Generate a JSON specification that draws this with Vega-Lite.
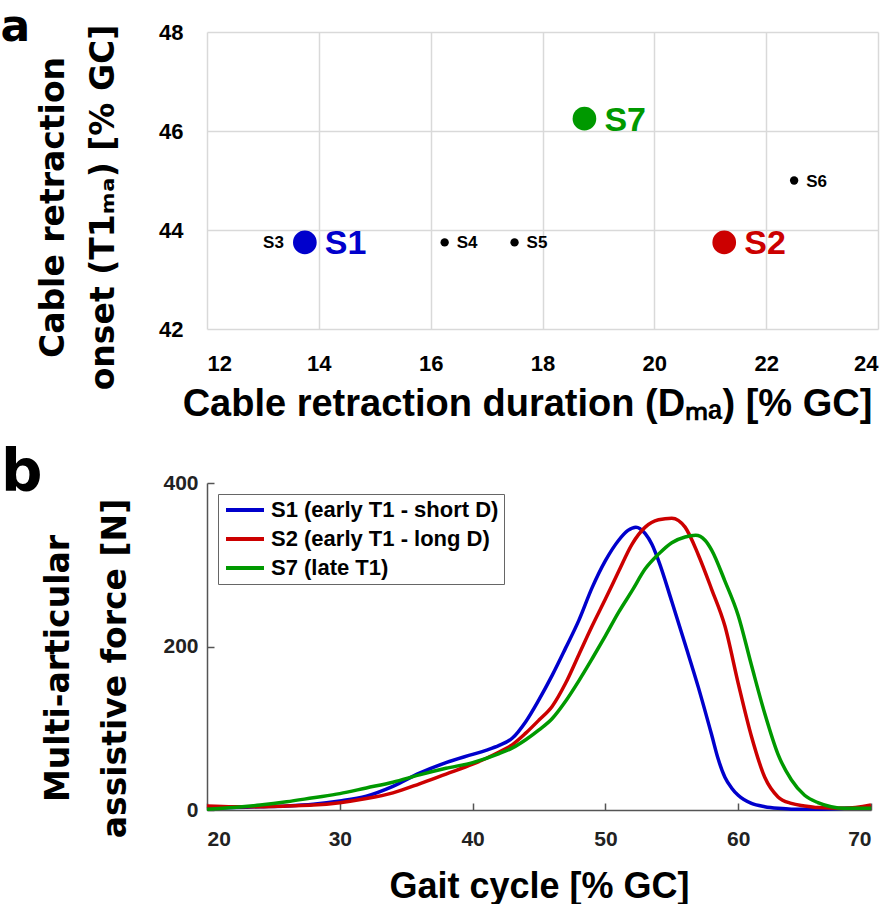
{
  "$schema": "https://vega.github.io/schema/vega-lite/v6.json",
  "background": "white",
  "padding": {"left": 0, "top": 6, "right": 5, "bottom": 0},
  "spacing": 22,
  "config": {"view": {"stroke": null}},
  "resolve": {"scale": {"color": "independent", "size": "independent"}, "legend": {"color": "independent", "size": "independent"}},
  "vconcat": [
    {
      "width": 671,
      "height": 297,
      "title": {"text": "a", "anchor": "start", "frame": "bounds", "font": "DejaVu Sans", "fontSize": 44, "fontWeight": "bold", "color": "black", "dx": -37, "offset": -29},
      "data": {"values": [
        {"subject": "S3", "duration": 13.75, "onset": 43.75},
        {"subject": "S1", "duration": 13.75, "onset": 43.75},
        {"subject": "S4", "duration": 16.25, "onset": 43.75},
        {"subject": "S5", "duration": 17.5, "onset": 43.75},
        {"subject": "S7", "duration": 18.75, "onset": 46.25},
        {"subject": "S2", "duration": 21.25, "onset": 43.75},
        {"subject": "S6", "duration": 22.5, "onset": 45}
      ]},
      "encoding": {
        "x": {"field": "duration", "type": "quantitative", "scale": {"domain": [12, 24], "nice": false, "zero": false},
          "axis": {"values": [12, 14, 16, 18, 20, 22, 24], "grid": true, "gridColor": "#d9d9d9", "gridWidth": 1.5, "domain": false, "ticks": false,
            "labelFont": "Liberation Sans", "labelFontSize": 22, "labelFontWeight": "bold", "labelColor": "black", "labelPadding": 24,
            "title": "Cable retraction duration (Dₘₐ) [% GC]", "titleX": 320, "titleFont": "Liberation Sans", "titleFontSize": 38, "titleFontWeight": "bold", "titleColor": "black", "titlePadding": 11}},
        "y": {"field": "onset", "type": "quantitative", "scale": {"domain": [42, 48], "nice": false, "zero": false},
          "axis": {"values": [42, 44, 46, 48], "grid": true, "gridColor": "#d9d9d9", "gridWidth": 1.5, "domain": false, "ticks": false,
            "labelFont": "Liberation Sans", "labelFontSize": 22, "labelFontWeight": "bold", "labelColor": "black", "labelPadding": 24,
            "title": ["Cable retraction", "onset (T1ₘₐ) [% GC]"], "titleY": 175, "titleFont": "DejaVu Sans", "titleFontSize": 33, "titleFontWeight": "bold", "titleColor": "black", "titleLineHeight": 50, "titlePadding": 38}}
      },
      "layer": [
        {"mark": {"type": "circle", "opacity": 1},
         "encoding": {
           "color": {"field": "subject", "type": "nominal", "scale": {"domain": ["S1", "S2", "S3", "S4", "S5", "S6", "S7"], "range": ["#0000cc", "#cc0000", "#000000", "#000000", "#000000", "#000000", "#009900"]}, "legend": null},
           "size": {"field": "subject", "type": "nominal", "scale": {"type": "ordinal", "domain": ["S1", "S2", "S3", "S4", "S5", "S6", "S7"], "range": [560, 560, 70, 70, 70, 70, 560]}, "legend": null}
         }},
        {"transform": [{"filter": {"field": "subject", "oneOf": ["S1", "S2", "S7"]}}],
         "mark": {"type": "text", "align": "left", "baseline": "middle", "dx": 20, "dy": 2, "font": "Liberation Sans", "fontSize": 34, "fontWeight": "bold"},
         "encoding": {"text": {"field": "subject"}, "color": {"field": "subject", "type": "nominal", "legend": null}}},
        {"transform": [{"filter": {"field": "subject", "oneOf": ["S4", "S5", "S6"]}}],
         "mark": {"type": "text", "align": "left", "baseline": "middle", "dx": 12, "dy": 1, "font": "Liberation Sans", "fontSize": 17, "fontWeight": "bold", "color": "black"},
         "encoding": {"text": {"field": "subject"}}},
        {"transform": [{"filter": {"field": "subject", "equal": "S3"}}],
         "mark": {"type": "text", "align": "right", "baseline": "middle", "dx": -21, "dy": 1, "font": "Liberation Sans", "fontSize": 17, "fontWeight": "bold", "color": "black"},
         "encoding": {"text": {"field": "subject"}}}
      ]
    },
    {
      "width": 664,
      "height": 327,
      "title": {"text": "b", "anchor": "start", "frame": "bounds", "font": "DejaVu Sans", "fontSize": 58, "fontWeight": "bold", "color": "black", "dx": -42, "offset": -31},
      "data": {"values": [
        {"series": "S1 (early T1 - short D)", "gc": 20, "force": 2},
        {"series": "S1 (early T1 - short D)", "gc": 22, "force": 3},
        {"series": "S1 (early T1 - short D)", "gc": 24, "force": 4},
        {"series": "S1 (early T1 - short D)", "gc": 26, "force": 5},
        {"series": "S1 (early T1 - short D)", "gc": 28, "force": 7},
        {"series": "S1 (early T1 - short D)", "gc": 30, "force": 11},
        {"series": "S1 (early T1 - short D)", "gc": 32, "force": 17},
        {"series": "S1 (early T1 - short D)", "gc": 34, "force": 29},
        {"series": "S1 (early T1 - short D)", "gc": 36, "force": 45},
        {"series": "S1 (early T1 - short D)", "gc": 38, "force": 58},
        {"series": "S1 (early T1 - short D)", "gc": 40, "force": 68},
        {"series": "S1 (early T1 - short D)", "gc": 41, "force": 73},
        {"series": "S1 (early T1 - short D)", "gc": 42, "force": 79},
        {"series": "S1 (early T1 - short D)", "gc": 43, "force": 88},
        {"series": "S1 (early T1 - short D)", "gc": 44, "force": 108},
        {"series": "S1 (early T1 - short D)", "gc": 45, "force": 135},
        {"series": "S1 (early T1 - short D)", "gc": 46, "force": 165},
        {"series": "S1 (early T1 - short D)", "gc": 47, "force": 198},
        {"series": "S1 (early T1 - short D)", "gc": 48, "force": 232},
        {"series": "S1 (early T1 - short D)", "gc": 49, "force": 272},
        {"series": "S1 (early T1 - short D)", "gc": 50, "force": 305},
        {"series": "S1 (early T1 - short D)", "gc": 51, "force": 330},
        {"series": "S1 (early T1 - short D)", "gc": 51.7, "force": 342},
        {"series": "S1 (early T1 - short D)", "gc": 52.3, "force": 346},
        {"series": "S1 (early T1 - short D)", "gc": 53, "force": 338},
        {"series": "S1 (early T1 - short D)", "gc": 53.5, "force": 325},
        {"series": "S1 (early T1 - short D)", "gc": 54, "force": 305},
        {"series": "S1 (early T1 - short D)", "gc": 55, "force": 255},
        {"series": "S1 (early T1 - short D)", "gc": 56, "force": 203},
        {"series": "S1 (early T1 - short D)", "gc": 57, "force": 150},
        {"series": "S1 (early T1 - short D)", "gc": 58, "force": 92},
        {"series": "S1 (early T1 - short D)", "gc": 58.5, "force": 62},
        {"series": "S1 (early T1 - short D)", "gc": 59, "force": 40},
        {"series": "S1 (early T1 - short D)", "gc": 59.5, "force": 27},
        {"series": "S1 (early T1 - short D)", "gc": 60, "force": 18},
        {"series": "S1 (early T1 - short D)", "gc": 61, "force": 8},
        {"series": "S1 (early T1 - short D)", "gc": 62, "force": 4},
        {"series": "S1 (early T1 - short D)", "gc": 63, "force": 2},
        {"series": "S1 (early T1 - short D)", "gc": 64, "force": 1},
        {"series": "S1 (early T1 - short D)", "gc": 66, "force": 1},
        {"series": "S1 (early T1 - short D)", "gc": 68, "force": 2},
        {"series": "S1 (early T1 - short D)", "gc": 70, "force": 3},
        {"series": "S2 (early T1 - long D)", "gc": 20, "force": 5},
        {"series": "S2 (early T1 - long D)", "gc": 22, "force": 4},
        {"series": "S2 (early T1 - long D)", "gc": 24, "force": 4},
        {"series": "S2 (early T1 - long D)", "gc": 26, "force": 5},
        {"series": "S2 (early T1 - long D)", "gc": 28, "force": 6},
        {"series": "S2 (early T1 - long D)", "gc": 30, "force": 9},
        {"series": "S2 (early T1 - long D)", "gc": 32, "force": 14},
        {"series": "S2 (early T1 - long D)", "gc": 34, "force": 21},
        {"series": "S2 (early T1 - long D)", "gc": 36, "force": 32},
        {"series": "S2 (early T1 - long D)", "gc": 38, "force": 44},
        {"series": "S2 (early T1 - long D)", "gc": 40, "force": 56},
        {"series": "S2 (early T1 - long D)", "gc": 42, "force": 71},
        {"series": "S2 (early T1 - long D)", "gc": 43, "force": 80},
        {"series": "S2 (early T1 - long D)", "gc": 44, "force": 94},
        {"series": "S2 (early T1 - long D)", "gc": 45, "force": 110},
        {"series": "S2 (early T1 - long D)", "gc": 46, "force": 127},
        {"series": "S2 (early T1 - long D)", "gc": 47, "force": 155},
        {"series": "S2 (early T1 - long D)", "gc": 48, "force": 190},
        {"series": "S2 (early T1 - long D)", "gc": 49, "force": 225},
        {"series": "S2 (early T1 - long D)", "gc": 50, "force": 258},
        {"series": "S2 (early T1 - long D)", "gc": 51, "force": 292},
        {"series": "S2 (early T1 - long D)", "gc": 52, "force": 325},
        {"series": "S2 (early T1 - long D)", "gc": 53, "force": 346},
        {"series": "S2 (early T1 - long D)", "gc": 54, "force": 355},
        {"series": "S2 (early T1 - long D)", "gc": 55, "force": 357},
        {"series": "S2 (early T1 - long D)", "gc": 56, "force": 346},
        {"series": "S2 (early T1 - long D)", "gc": 57, "force": 312},
        {"series": "S2 (early T1 - long D)", "gc": 58, "force": 270},
        {"series": "S2 (early T1 - long D)", "gc": 59, "force": 225},
        {"series": "S2 (early T1 - long D)", "gc": 60, "force": 155},
        {"series": "S2 (early T1 - long D)", "gc": 61, "force": 90},
        {"series": "S2 (early T1 - long D)", "gc": 62, "force": 40},
        {"series": "S2 (early T1 - long D)", "gc": 63, "force": 16},
        {"series": "S2 (early T1 - long D)", "gc": 64, "force": 8},
        {"series": "S2 (early T1 - long D)", "gc": 65, "force": 5},
        {"series": "S2 (early T1 - long D)", "gc": 66, "force": 3},
        {"series": "S2 (early T1 - long D)", "gc": 68, "force": 2},
        {"series": "S2 (early T1 - long D)", "gc": 70, "force": 6},
        {"series": "S7 (late T1)", "gc": 20, "force": 1},
        {"series": "S7 (late T1)", "gc": 22, "force": 3},
        {"series": "S7 (late T1)", "gc": 24, "force": 6},
        {"series": "S7 (late T1)", "gc": 26, "force": 10},
        {"series": "S7 (late T1)", "gc": 28, "force": 15},
        {"series": "S7 (late T1)", "gc": 30, "force": 20},
        {"series": "S7 (late T1)", "gc": 32, "force": 27},
        {"series": "S7 (late T1)", "gc": 34, "force": 34},
        {"series": "S7 (late T1)", "gc": 36, "force": 43},
        {"series": "S7 (late T1)", "gc": 38, "force": 51},
        {"series": "S7 (late T1)", "gc": 40, "force": 58},
        {"series": "S7 (late T1)", "gc": 42, "force": 69},
        {"series": "S7 (late T1)", "gc": 43, "force": 76},
        {"series": "S7 (late T1)", "gc": 44, "force": 86},
        {"series": "S7 (late T1)", "gc": 45, "force": 98},
        {"series": "S7 (late T1)", "gc": 46, "force": 112},
        {"series": "S7 (late T1)", "gc": 47, "force": 133},
        {"series": "S7 (late T1)", "gc": 48, "force": 158},
        {"series": "S7 (late T1)", "gc": 49, "force": 185},
        {"series": "S7 (late T1)", "gc": 50, "force": 213},
        {"series": "S7 (late T1)", "gc": 51, "force": 242},
        {"series": "S7 (late T1)", "gc": 52, "force": 268},
        {"series": "S7 (late T1)", "gc": 53, "force": 295},
        {"series": "S7 (late T1)", "gc": 54, "force": 313},
        {"series": "S7 (late T1)", "gc": 55, "force": 327},
        {"series": "S7 (late T1)", "gc": 56, "force": 334},
        {"series": "S7 (late T1)", "gc": 56.8, "force": 336},
        {"series": "S7 (late T1)", "gc": 57.5, "force": 330},
        {"series": "S7 (late T1)", "gc": 58, "force": 318},
        {"series": "S7 (late T1)", "gc": 59, "force": 280},
        {"series": "S7 (late T1)", "gc": 60, "force": 238},
        {"series": "S7 (late T1)", "gc": 61, "force": 177},
        {"series": "S7 (late T1)", "gc": 62, "force": 118},
        {"series": "S7 (late T1)", "gc": 63, "force": 68},
        {"series": "S7 (late T1)", "gc": 64, "force": 37},
        {"series": "S7 (late T1)", "gc": 65, "force": 18},
        {"series": "S7 (late T1)", "gc": 66, "force": 9},
        {"series": "S7 (late T1)", "gc": 67, "force": 4},
        {"series": "S7 (late T1)", "gc": 68, "force": 2},
        {"series": "S7 (late T1)", "gc": 70, "force": 2}
      ]},
      "mark": {"type": "line", "strokeWidth": 3.5, "interpolate": "monotone"},
      "encoding": {
        "x": {"field": "gc", "type": "quantitative", "scale": {"domain": [20, 70], "nice": false, "zero": false},
          "axis": {"values": [20, 30, 40, 50, 60, 70], "grid": false, "domainColor": "#555555", "domainWidth": 1.5, "tickColor": "#555555", "tickWidth": 1.5, "tickSize": -7,
            "labelFont": "Liberation Sans", "labelFontSize": 21, "labelFontWeight": "bold", "labelColor": "#222222", "labelPadding": 25,
            "title": "Gait cycle [% GC]", "titleFont": "Liberation Sans", "titleFontSize": 36, "titleFontWeight": "bold", "titleColor": "black", "titlePadding": 20}},
        "y": {"field": "force", "type": "quantitative", "scale": {"domain": [0, 400], "nice": false},
          "axis": {"values": [0, 200, 400], "grid": false, "domainColor": "#555555", "domainWidth": 1.5, "tickColor": "#555555", "tickWidth": 1.5, "tickSize": -7,
            "labelFont": "Liberation Sans", "labelFontSize": 21, "labelFontWeight": "bold", "labelColor": "#222222", "labelPadding": 16,
            "title": ["Multi-articular", "assistive force [N]"], "titleY": 185, "titleFont": "DejaVu Sans", "titleFontSize": 33, "titleFontWeight": "bold", "titleColor": "black", "titleLineHeight": 57, "titlePadding": 30}},
        "color": {"field": "series", "type": "nominal",
          "scale": {"domain": ["S1 (early T1 - short D)", "S2 (early T1 - long D)", "S7 (late T1)"], "range": ["#0000cc", "#cc0000", "#009900"]},
          "legend": {"title": null, "orient": "none", "legendX": 11, "legendY": 11, "fillColor": "white", "strokeColor": "#666666", "padding": 5,
            "symbolType": "M-2.5,0H2.5", "symbolSize": 231, "symbolStrokeWidth": 4, "symbolOffset": 11, "labelOffset": 15,
            "labelFont": "Liberation Sans", "labelFontSize": 22, "labelFontWeight": "bold", "labelColor": "black", "labelLimit": 400, "rowPadding": 7}}
      }
    }
  ]
}
